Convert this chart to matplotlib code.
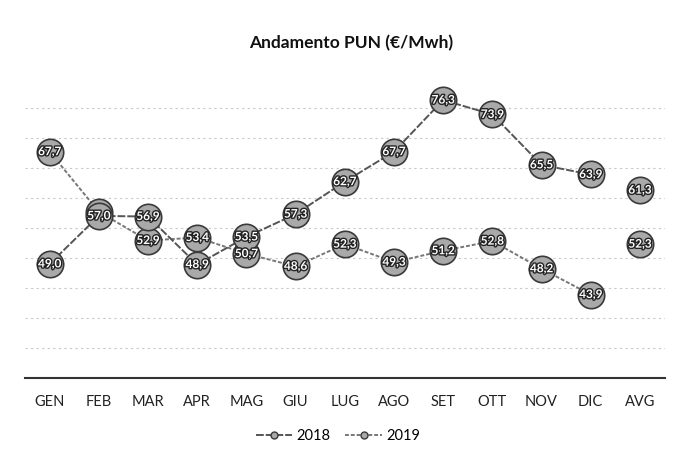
import matplotlib.pyplot as plt
import matplotlib.patheffects as pe
import numpy as np

plt.rcParams['font.family'] = ['Lato', 'DejaVu Sans']

months = ['GEN', 'FEB', 'MAR', 'APR', 'MAG', 'GIU', 'LUG', 'AGO', 'SET', 'OTT', 'NOV', 'DIC']
labels = months + ['AVG']
pun_2018 = [49.0, 57.0, 56.9, 48.9, 53.5, 57.3, 62.7, 67.7, 76.3, 73.9, 65.5, 63.9]
pun_2019 = [67.7, 57.7, 52.9, 53.4, 50.7, 48.6, 52.3, 49.3, 51.2, 52.8, 48.2, 43.9]
avg_2018 = 61.3
avg_2019 = 52.3

x = np.arange(len(months))
x_avg = len(months)

fig = plt.figure(figsize=(6.76, 4.5), dpi=100)
ax = fig.add_axes([0.037, 0.16, 0.946, 0.667])

for yv in range(35, 80, 5):
    ax.axhline(yv, color='#c8c8c8', lw=0.8, ls=(0, (2, 3)), zorder=0)

style = dict(marker='o', markersize=19, markerfacecolor='#a9a9a9',
             markeredgecolor='#3a3a3a', markeredgewidth=1.2)
ax.plot(x, pun_2019, color='#777777', lw=1.4, ls=(0, (2, 1)), zorder=3, **style)
ax.plot(x, pun_2018, color='#555555', lw=1.4, ls=(0, (4, 1)), zorder=4, **style)
ax.plot([x_avg], [avg_2018], ls='none', zorder=3, **style)
ax.plot([x_avg], [avg_2019], ls='none', zorder=3, **style)

# the FEB points sit on top of each other, only the 2018 label shows
outline = [pe.withStroke(linewidth=2, foreground='#222222')]
points = [(xi, yi) for xi, yi in zip(x, pun_2018)] + [(x_avg, avg_2018)]
points += [(xi, yi) for xi, yi in zip(x, pun_2019) if xi != 1] + [(x_avg, avg_2019)]
for xi, yi in points:
    ax.text(xi, yi, f'{yi:.1f}'.replace('.', ','), ha='center', va='center',
            fontsize=8.5, fontweight='bold', color='white', path_effects=outline, zorder=5)

ax.set_xlim(-0.5, 12.5)
ax.set_ylim(30, 80)
ax.set_xticks(range(len(labels)), labels)
ax.tick_params(axis='x', length=0, pad=12, labelsize=10.5, colors='#222222')
ax.set_yticks([])
for s in ['top', 'right', 'left']:
    ax.spines[s].set_visible(False)
ax.spines['bottom'].set_color('#333333')
ax.spines['bottom'].set_linewidth(1.5)

fig.text(0.52, 0.905, 'Andamento PUN (€/Mwh)', ha='center', va='center',
         fontsize=12.5, fontweight='bold', color='#111111')

h1 = plt.Line2D([], [], color='#555555', lw=1.4, ls=(0, (4, 1)), marker='o', markersize=5,
                markerfacecolor='#a9a9a9', markeredgecolor='#3a3a3a')
h2 = plt.Line2D([], [], color='#777777', lw=1.4, ls=(0, (2, 1)), marker='o', markersize=5,
                markerfacecolor='#a9a9a9', markeredgecolor='#3a3a3a')
fig.legend(handles=[h1, h2], labels=['2018', '2019'], loc='center',
           bbox_to_anchor=(0.5, 0.03), ncol=2, frameon=False, fontsize=10.5,
           handlelength=2.5, columnspacing=1.0, handletextpad=0.3)

plt.savefig('out.png', dpi=100)
